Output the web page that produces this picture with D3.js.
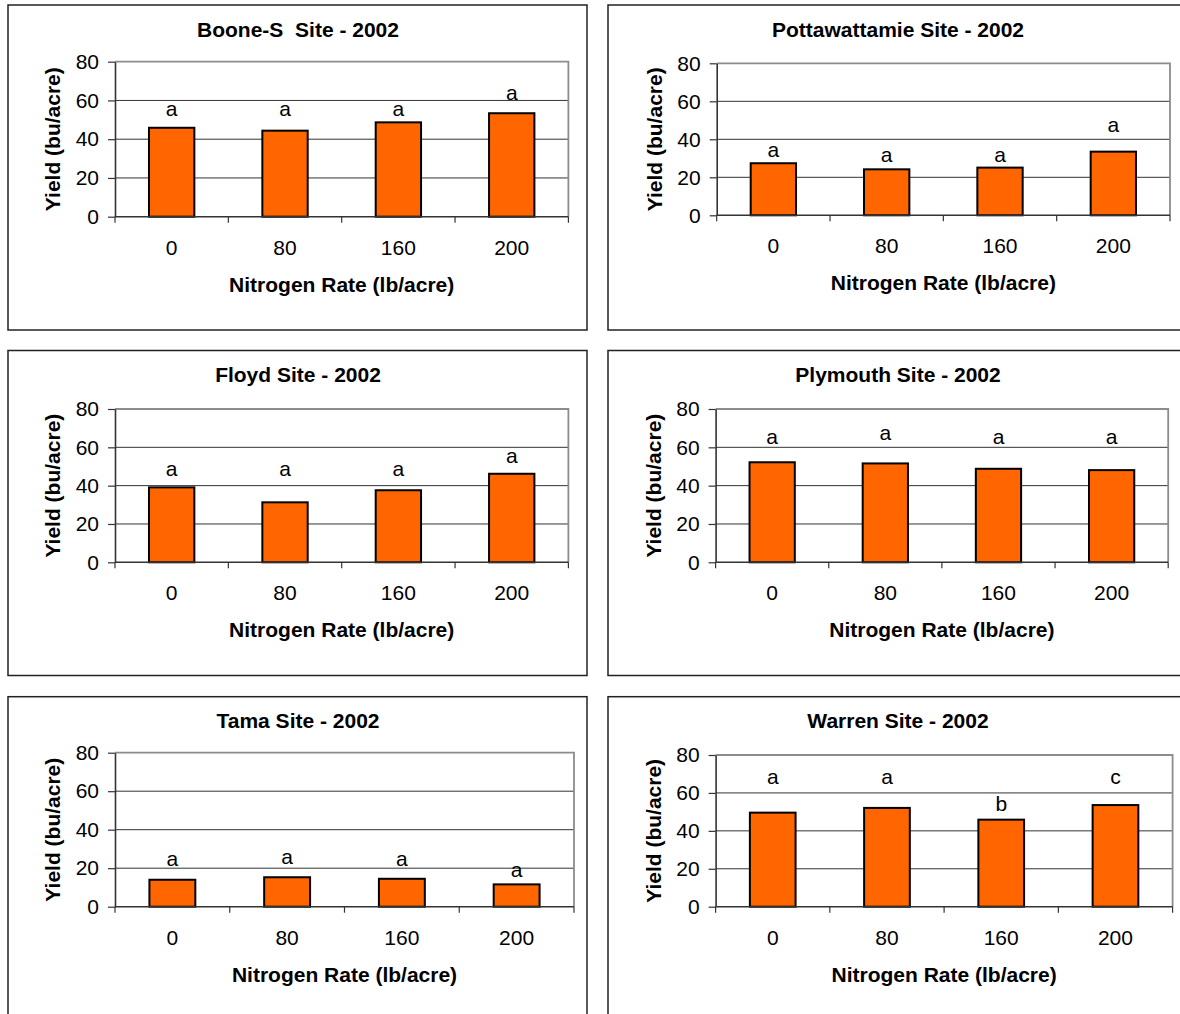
<!DOCTYPE html>
<html>
<head>
<meta charset="utf-8">
<script src="https://cdn.jsdelivr.net/npm/d3@7"></script>
<style>
  html, body { margin: 0; padding: 0; background: #fff; }
  svg { display: block; }
  text { font-family: "Liberation Sans", Arial, sans-serif; fill: #000; }
</style>
</head>
<body>
<svg id="chart" width="1180" height="1014"></svg>
<script>
// ---------- DATA ----------
const rates = ["0", "80", "160", "200"];
const yTicks = [0, 20, 40, 60, 80];
const titles = [
  "Boone-S  Site - 2002",
  "Pottawattamie Site - 2002",
  "Floyd Site - 2002",
  "Plymouth Site - 2002",
  "Tama Site - 2002",
  "Warren Site - 2002"
];
const booneYield    = [45.9, 44.4, 48.7, 53.4];
const pottYield     = [27.4, 24.2, 25.1, 33.5];
const floydYield    = [39.1, 31.3, 37.6, 46.2];
const plymouthYield = [52.2, 51.6, 48.8, 48.1];
const tamaYield     = [14.0, 15.3, 14.5, 11.6];
const warrenYield   = [49.6, 52.1, 45.9, 53.6];

const booneLetters    = ["a", "a", "a", "a"];
const pottLetters     = ["a", "a", "a", "a"];
const floydLetters    = ["a", "a", "a", "a"];
const plymouthLetters = ["a", "a", "a", "a"];
const tamaLetters     = ["a", "a", "a", "a"];
const warrenLetters   = ["a", "a", "b", "c"];

// height (in bu/acre units) at which each significance letter sits
const booneLetterY    = [52.2, 52.2, 52.2, 60.0];
const pottLetterY     = [30.6, 28.3, 28.3, 43.7];
const floydLetterY    = [44.8, 44.8, 44.8, 51.7];
const plymouthLetterY = [61.5, 63.9, 61.5, 61.5];
const tamaLetterY     = [21.0, 22.1, 21.0, 15.2];
const warrenLetterY   = [64.7, 64.7, 50.6, 64.7];

const yieldSets  = [booneYield, pottYield, floydYield, plymouthYield, tamaYield, warrenYield];
const letterSets = [booneLetters, pottLetters, floydLetters, plymouthLetters, tamaLetters, warrenLetters];
const letterYSets = [booneLetterY, pottLetterY, floydLetterY, plymouthLetterY, tamaLetterY, warrenLetterY];

// ---------- LAYOUT ----------
const layout = [
  {x0: 8,   y0: 5,     L: 115,   R: 568.4,  T: 61.7,  B: 216.7},
  {x0: 608, y0: 5,     L: 716.7, R: 1170,   T: 63.3,  B: 215.3},
  {x0: 8,   y0: 350.5, L: 115,   R: 568.4,  T: 409,   B: 562.3},
  {x0: 608, y0: 350.5, L: 715.6, R: 1168.2, T: 409,   B: 562.3},
  {x0: 8,   y0: 696.7, L: 115,   R: 574,    T: 752.7, B: 906.7},
  {x0: 608, y0: 696.7, L: 715.6, R: 1172.6, T: 755,   B: 906.7}
];
const boxW = 579, boxH = 325;
const FS = 21;

const svg = d3.select("#chart");

layout.forEach((p, i) => {
  const g = svg.append("g");
  const vals = yieldSets[i];
  const data = rates.map((r, k) => ({rate: r, v: vals[k], letter: letterSets[i][k], ly: letterYSets[i][k]}));

  // outer box
  g.append("rect")
    .attr("x", p.x0).attr("y", p.y0).attr("width", boxW).attr("height", boxH)
    .attr("fill", "#fff").attr("stroke", "#222").attr("stroke-width", 1.5);

  const y = d3.scaleLinear().domain([0, 80]).range([p.B, p.T]);
  const xb = d3.scaleBand().domain(rates).range([p.L, p.R]).paddingInner(0.6).paddingOuter(0.3);
  const step = (p.R - p.L) / rates.length;

  // gridlines
  g.append("g").selectAll("line").data(yTicks.filter(t => t > 0 && t < 80)).join("line")
    .attr("x1", p.L).attr("x2", p.R)
    .attr("y1", d => y(d)).attr("y2", d => y(d))
    .attr("stroke", "#333").attr("stroke-width", 1);

  // plot area border (top and right) gray
  g.append("path")
    .attr("d", `M${p.L},${y(80)}H${p.R}V${p.B}`)
    .attr("fill", "none").attr("stroke", "#8c8c8c").attr("stroke-width", 1.8);

  // bars
  g.append("g").selectAll("rect").data(data).join("rect")
    .attr("x", d => xb(d.rate))
    .attr("y", d => y(d.v))
    .attr("width", xb.bandwidth())
    .attr("height", d => y(0) - y(d.v))
    .attr("fill", "#FF6600")
    .attr("stroke", "#000").attr("stroke-width", 2);

  // y axis
  const yAxis = d3.axisLeft(y).tickValues(yTicks).tickSize(7).tickPadding(9).tickSizeOuter(0);
  const ya = g.append("g").attr("transform", `translate(${p.L},0)`).call(yAxis);
  ya.select(".domain").attr("stroke", "#333").attr("stroke-width", 1.6);
  ya.selectAll(".tick line").attr("stroke", "#333").attr("stroke-width", 1.2);
  ya.selectAll(".tick text")
    .style("font-family", '"Liberation Sans", Arial, sans-serif')
    .style("font-size", FS + "px").attr("fill", "#000");

  // x axis (category boundary ticks)
  const bounds = d3.range(rates.length + 1).map(k => p.L + k * step);
  g.append("line").attr("x1", p.L).attr("x2", p.R).attr("y1", p.B).attr("y2", p.B)
    .attr("stroke", "#333").attr("stroke-width", 1.6);
  g.append("g").selectAll("line").data(bounds).join("line")
    .attr("x1", d => d).attr("x2", d => d)
    .attr("y1", p.B).attr("y2", p.B + 6)
    .attr("stroke", "#333").attr("stroke-width", 1.2);
  g.append("g").selectAll("text").data(rates).join("text")
    .attr("x", d => xb(d) + xb.bandwidth() / 2)
    .attr("y", p.B + 38)
    .attr("text-anchor", "middle")
    .style("font-size", FS + "px")
    .text(d => d);

  // significance letters
  g.append("g").selectAll("text").data(data).join("text")
    .attr("x", d => xb(d.rate) + xb.bandwidth() / 2)
    .attr("y", d => y(d.ly))
    .attr("text-anchor", "middle")
    .style("font-size", FS + "px")
    .text(d => d.letter);

  // title
  g.append("text")
    .attr("x", p.x0 + 290).attr("y", p.y0 + 31.7)
    .attr("text-anchor", "middle")
    .style("font-size", FS + "px").style("font-weight", "bold")
    .style("white-space", "pre")
    .text(titles[i]);

  // x axis title
  g.append("text")
    .attr("x", (p.L + p.R) / 2).attr("y", p.B + 75)
    .attr("text-anchor", "middle")
    .style("font-size", FS + "px").style("font-weight", "bold")
    .text("Nitrogen Rate (lb/acre)");

  // y axis title
  g.append("text")
    .attr("transform", `translate(${p.L - 55},${(p.T + p.B) / 2}) rotate(-90)`)
    .attr("text-anchor", "middle")
    .style("font-size", FS + "px").style("font-weight", "bold")
    .text("Yield (bu/acre)");
});
</script>
</body>
</html>
